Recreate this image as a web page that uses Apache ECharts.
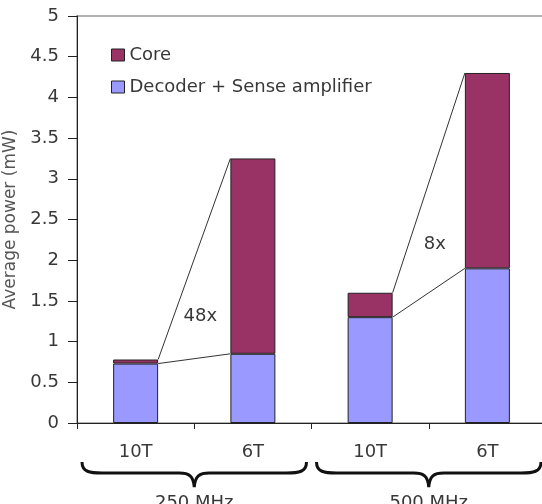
<!DOCTYPE html>
<html>
<head>
<meta charset="utf-8">
<script src="https://cdn.jsdelivr.net/npm/echarts@6/dist/echarts.min.js"></script>
<style>html,body{margin:0;padding:0;background:#fff}#c{width:542px;height:504px}</style>
</head>
<body>
<div id="c"></div>
<script>
// ---- data ----
const categories = ['10T', '6T', '10T', '6T'];
const groups = ['250 MHz', '500 MHz'];
const groupRanges = [[0, 1], [2, 3]];
const decoderValues = [0.73, 0.85, 1.30, 1.90];
const coreValues = [0.05, 2.40, 0.30, 2.40];
const yTicks = [0, 0.5, 1, 1.5, 2, 2.5, 3, 3.5, 4, 4.5, 5];
const comparePairs = [[0, 1], [2, 3]];
const compareLabels = ['48x', '8x'];
const seriesNames = ['Core', 'Decoder + Sense amplifier'];

// ---- style ----
const FONT = 'DejaVu Sans, Verdana, sans-serif';
const TXT = '#383838';
const BAR_W = 45;
const totals = decoderValues.map((d, i) => d + coreValues[i]);

const chart = echarts.init(document.getElementById('c'), null, {renderer: 'canvas'});

function bracePath(x0, x1, yTop, yMid, yTip) {
  const xc = (x0 + x1) / 2;
  return `M ${x0} ${yTop} C ${x0} ${yMid - 1} ${x0 + 8} ${yMid} ${x0 + 20} ${yMid} ` +
         `L ${xc - 15} ${yMid} C ${xc - 5} ${yMid} ${xc - 1} ${yMid + 3} ${xc} ${yTip} ` +
         `C ${xc + 1} ${yMid + 3} ${xc + 5} ${yMid} ${xc + 15} ${yMid} ` +
         `L ${x1 - 20} ${yMid} C ${x1 - 8} ${yMid} ${x1} ${yMid - 1} ${x1} ${yTop}`;
}

const option = {
  animation: false,
  backgroundColor: '#fff',
  textStyle: {fontFamily: FONT},
  grid: {left: 77, top: 16, right: -4, bottom: 81, outerBoundsMode: 'none', containLabel: false,
         show: true, borderColor: '#9a9a9a', borderWidth: 1.5, backgroundColor: 'transparent'},
  legend: {
    orient: 'vertical', left: 111, top: 45, padding: 0, itemWidth: 13, itemHeight: 12, itemGap: 12,
    data: seriesNames, icon: 'rect',
    itemStyle: {borderColor: '#222', borderWidth: 1},
    textStyle: {fontFamily: FONT, fontSize: 18, color: TXT, lineHeight: 20}
  },
  xAxis: [
    {
      type: 'category', data: categories, position: 'bottom',
      axisLine: {lineStyle: {color: '#222', width: 1}},
      axisTick: {show: true, length: 6, lineStyle: {color: '#222'}},
      axisLabel: {fontSize: 18, color: TXT, margin: 20, fontFamily: FONT}
    },
    {
      type: 'category', data: groups, position: 'bottom', gridIndex: 0,
      axisLine: {show: false}, axisTick: {show: false},
      axisLabel: {fontSize: 18, color: TXT, margin: 71, fontFamily: FONT}
    }
  ],
  yAxis: {
    type: 'value', min: 0, max: 5, interval: 0.5,
    name: 'Average power (mW)', nameLocation: 'middle', nameGap: 57,
    nameTextStyle: {fontSize: 17, color: '#555', fontFamily: FONT},
    splitLine: {show: false},
    axisLine: {show: true, lineStyle: {color: '#222', width: 1}},
    axisTick: {show: true, length: 9, lineStyle: {color: '#222'}},
    axisLabel: {fontSize: 18, color: TXT, margin: 18, fontFamily: FONT,
      formatter: v => yTicks.includes(v) ? String(v) : ''}
  },
  series: [
    {
      name: seriesNames[1], type: 'bar', stack: 'total', barWidth: BAR_W,
      data: decoderValues,
      itemStyle: {color: '#9999FF', borderColor: '#222', borderWidth: 1}
    },
    {
      name: seriesNames[0], type: 'bar', stack: 'total', barWidth: BAR_W,
      data: coreValues,
      itemStyle: {color: '#993366', borderColor: '#222', borderWidth: 1}
    },
    {
      type: 'custom', name: 'connectors', z: 5, silent: true, clip: false,
      data: comparePairs,
      encode: {x: [0, 1]},
      renderItem: function (params, api) {
        const pair = comparePairs[params.dataIndex];
        const a = pair[0], b = pair[1];
        const hw = BAR_W / 2;
        const aTop = api.coord([a, totals[a]]);
        const bTop = api.coord([b, totals[b]]);
        const aMid = api.coord([a, decoderValues[a]]);
        const bMid = api.coord([b, decoderValues[b]]);
        const x1 = aTop[0] + hw, x2 = bTop[0] - hw;
        const cx = (x1 + x2) / 2 + 6;
        const cy = (aTop[1] + bTop[1] + aMid[1] + bMid[1]) / 4 + 7;
        return {
          type: 'group',
          children: [
            {type: 'line', shape: {x1: x1, y1: aTop[1], x2: x2, y2: bTop[1]},
             style: {stroke: '#333', lineWidth: 1}},
            {type: 'line', shape: {x1: x1, y1: aMid[1], x2: x2, y2: bMid[1]},
             style: {stroke: '#333', lineWidth: 1}},
            {type: 'text', x: cx, y: cy,
             style: {text: compareLabels[params.dataIndex], fontSize: 18, fontFamily: FONT,
                     fill: TXT, align: 'center', verticalAlign: 'middle'}}
          ]
        };
      }
    },
    {
      type: 'custom', name: 'braces', z: 5, silent: true, clip: false,
      data: groupRanges,
      encode: {x: [0, 1]},
      renderItem: function (params, api) {
        const r = groupRanges[params.dataIndex];
        const band = api.size([1, 0])[0];
        const p0 = api.coord([r[0], 0]);
        const p1 = api.coord([r[1], 0]);
        const x0 = p0[0] - band / 2 + 5;
        const x1 = p1[0] + band / 2 - 5;
        const y = p0[1];
        return {
          type: 'path',
          shape: {pathData: bracePath(x0, x1, y + 39, y + 50, y + 64)},
          style: {fill: null, stroke: '#111', lineWidth: 3}
        };
      }
    }
  ]
};
chart.setOption(option);
</script>
</body>
</html>
